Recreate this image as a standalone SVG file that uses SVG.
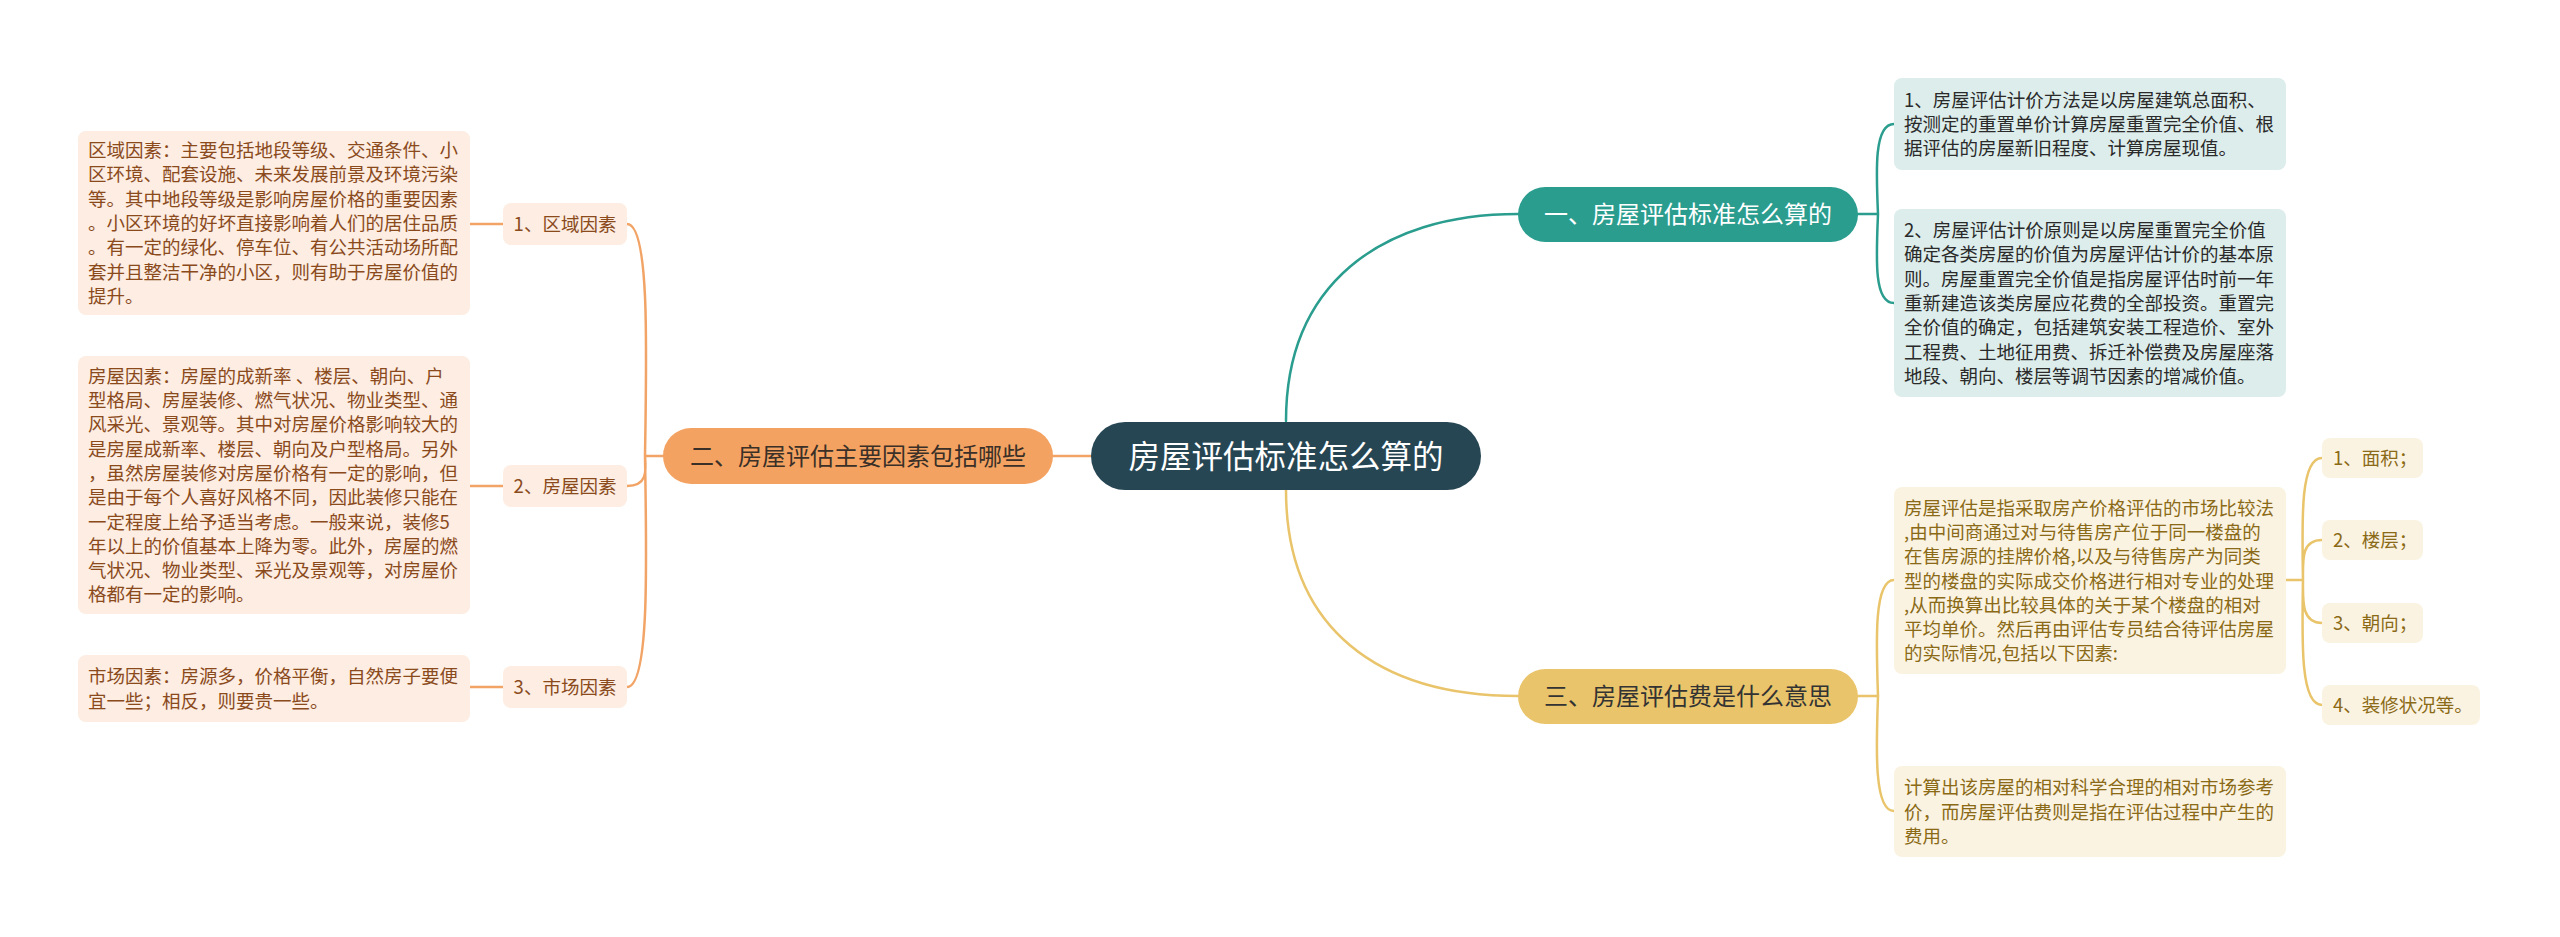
<svg xmlns="http://www.w3.org/2000/svg" width="2560" height="937" viewBox="0 0 2560 937">
<style>
text{font-family:"Noto Sans CJK SC","Noto Sans",sans-serif;}
.lf{font-size:18.5px;}
.tealLeaf{fill:#dcedeb;}
.tealTxt{fill:#2a2a2a;}
.yLeaf{fill:#fbf3e2;}
.yTxt{fill:#8a6a16;}
.oLeaf{fill:#fdede2;}
.oTxt{fill:#8a4a1c;}
.c{fill:none;stroke-width:2.5;stroke-linecap:round;}
.ct{stroke:#2a9d8f;}
.cy{stroke:#e9c46a;}
.co{stroke:#f2a466;}
</style>
<rect width="2560" height="937" fill="#ffffff"/>
<g id="connectors">
  <path class="c ct" d="M1286,421 C1286,285 1380,214 1518,214"/>
  <path class="c cy" d="M1286,490 C1286,630 1380,696 1518,696"/>
  <path class="c co" d="M1091,456 L1053,456"/>
  <path class="c ct" d="M1858,214 L1878,214 M1878,214 C1876,170 1874,124 1894,124 M1878,214 C1876,260 1874,303 1894,303"/>
  <path class="c cy" d="M1858,696 L1878,696 M1878,696 C1876,640 1874,580 1894,580 M1878,696 C1876,750 1874,811 1894,811"/>
  <path class="c cy" d="M2286,580 L2303,580 M2303,580 C2302,520 2300,458 2322,458 M2303,580 C2303,560 2301,540 2322,540 M2303,580 C2303,600 2301,623 2322,623 M2303,580 C2302,640 2300,705 2322,705"/>
  <path class="c co" d="M663,456 L645,456 M645,456 C647,340 649,224 627,224 M645,456 C646,470 648,486 627,486 M645,456 C647,570 649,687 627,687"/>
  <path class="c co" d="M503,224 L470,224 M503,486 L470,486 M503,687 L470,687"/>
</g>
<g id="root">
  <rect x="1091" y="422" width="390" height="68" rx="34" fill="#264653"/>
  <text x="1286" y="467.5" font-size="31.5" fill="#ffffff" text-anchor="middle">房屋评估标准怎么算的</text>
</g>
<g id="b1">
  <rect x="1518" y="187" width="340" height="55" rx="27.5" fill="#2a9d8f"/>
  <text x="1688" y="222.5" font-size="24" fill="#ffffff" text-anchor="middle">一、房屋评估标准怎么算的</text>
</g>
<g id="b3">
  <rect x="1518" y="669" width="340" height="55" rx="27.5" fill="#e9c46a"/>
  <text x="1688" y="704.5" font-size="24" fill="#333333" text-anchor="middle">三、房屋评估费是什么意思</text>
</g>
<g id="b2">
  <rect x="663" y="428" width="390" height="56" rx="28" fill="#f4a261"/>
  <text x="858" y="464.5" font-size="24" fill="#3a3028" text-anchor="middle">二、房屋评估主要因素包括哪些</text>
</g>
<g id="t1">
  <rect class="tealLeaf" x="1894" y="78" width="392" height="92" rx="8"/>
  <text class="lf tealTxt" x="1904"><tspan x="1904" y="106.7">1、房屋评估计价方法是以房屋建筑总面积、</tspan><tspan x="1904" y="131">按测定的重置单价计算房屋重置完全价值、根</tspan><tspan x="1904" y="155.3">据评估的房屋新旧程度、计算房屋现值。</tspan></text>
</g>
<g id="t2">
  <rect class="tealLeaf" x="1894" y="209" width="392" height="188" rx="8"/>
  <text class="lf tealTxt"><tspan x="1904" y="237.1">2、房屋评估计价原则是以房屋重置完全价值</tspan><tspan x="1904" y="261.4">确定各类房屋的价值为房屋评估计价的基本原</tspan><tspan x="1904" y="285.7">则。房屋重置完全价值是指房屋评估时前一年</tspan><tspan x="1904" y="310">重新建造该类房屋应花费的全部投资。重置完</tspan><tspan x="1904" y="334.3">全价值的确定，包括建筑安装工程造价、室外</tspan><tspan x="1904" y="358.6">工程费、土地征用费、拆迁补偿费及房屋座落</tspan><tspan x="1904" y="382.9">地段、朝向、楼层等调节因素的增减价值。</tspan></text>
</g>
<g id="y1">
  <rect class="yLeaf" x="1894" y="487" width="392" height="187" rx="8"/>
  <text class="lf yTxt"><tspan x="1904" y="514.6">房屋评估是指采取房产价格评估的市场比较法</tspan><tspan x="1904" y="538.9">,由中间商通过对与待售房产位于同一楼盘的</tspan><tspan x="1904" y="563.2">在售房源的挂牌价格,以及与待售房产为同类</tspan><tspan x="1904" y="587.5">型的楼盘的实际成交价格进行相对专业的处理</tspan><tspan x="1904" y="611.8">,从而换算出比较具体的关于某个楼盘的相对</tspan><tspan x="1904" y="636.1">平均单价。然后再由评估专员结合待评估房屋</tspan><tspan x="1904" y="660.4">的实际情况,包括以下因素:</tspan></text>
</g>
<g id="y2">
  <rect class="yLeaf" x="1894" y="766" width="392" height="91" rx="8"/>
  <text class="lf yTxt"><tspan x="1904" y="794.2">计算出该房屋的相对科学合理的相对市场参考</tspan><tspan x="1904" y="818.5">价，而房屋评估费则是指在评估过程中产生的</tspan><tspan x="1904" y="842.8">费用。</tspan></text>
</g>
<g id="s1">
  <rect class="yLeaf" x="2322" y="438" width="101" height="40" rx="8"/>
  <text class="lf yTxt" x="2333" y="465">1、面积；</text>
</g>
<g id="s2">
  <rect class="yLeaf" x="2322" y="520" width="101" height="40" rx="8"/>
  <text class="lf yTxt" x="2333" y="547">2、楼层；</text>
</g>
<g id="s3">
  <rect class="yLeaf" x="2322" y="603" width="101" height="40" rx="8"/>
  <text class="lf yTxt" x="2333" y="630">3、朝向；</text>
</g>
<g id="s4">
  <rect class="yLeaf" x="2322" y="685" width="158" height="40" rx="8"/>
  <text class="lf yTxt" x="2333" y="712">4、装修状况等。</text>
</g>
<g id="o1">
  <rect class="oLeaf" x="503" y="203" width="124" height="42" rx="8"/>
  <text class="lf oTxt" x="565" y="231" text-anchor="middle">1、区域因素</text>
</g>
<g id="o2">
  <rect class="oLeaf" x="503" y="465" width="124" height="42" rx="8"/>
  <text class="lf oTxt" x="565" y="493" text-anchor="middle">2、房屋因素</text>
</g>
<g id="o3">
  <rect class="oLeaf" x="503" y="666" width="124" height="42" rx="8"/>
  <text class="lf oTxt" x="565" y="694" text-anchor="middle">3、市场因素</text>
</g>
<g id="o1d">
  <rect class="oLeaf" x="78" y="131" width="392" height="184" rx="8"/>
  <text class="lf oTxt"><tspan x="88" y="157.1">区域因素：主要包括地段等级、交通条件、小</tspan><tspan x="88" y="181.4">区环境、配套设施、未来发展前景及环境污染</tspan><tspan x="88" y="205.7">等。其中地段等级是影响房屋价格的重要因素</tspan><tspan x="88" y="230">。小区环境的好坏直接影响着人们的居住品质</tspan><tspan x="88" y="254.3">。有一定的绿化、停车位、有公共活动场所配</tspan><tspan x="88" y="278.6">套并且整洁干净的小区，则有助于房屋价值的</tspan><tspan x="88" y="302.9">提升。</tspan></text>
</g>
<g id="o2d">
  <rect class="oLeaf" x="78" y="356" width="392" height="258" rx="8"/>
  <text class="lf oTxt"><tspan x="88" y="382.7">房屋因素：房屋的成新率 、楼层、朝向、户</tspan><tspan x="88" y="407">型格局、房屋装修、燃气状况、物业类型、通</tspan><tspan x="88" y="431.3">风采光、景观等。其中对房屋价格影响较大的</tspan><tspan x="88" y="455.6">是房屋成新率、楼层、朝向及户型格局。另外</tspan><tspan x="88" y="479.9">，虽然房屋装修对房屋价格有一定的影响，但</tspan><tspan x="88" y="504.2">是由于每个人喜好风格不同，因此装修只能在</tspan><tspan x="88" y="528.5">一定程度上给予适当考虑。一般来说，装修5</tspan><tspan x="88" y="552.8">年以上的价值基本上降为零。此外，房屋的燃</tspan><tspan x="88" y="577.1">气状况、物业类型、采光及景观等，对房屋价</tspan><tspan x="88" y="601.4">格都有一定的影响。</tspan></text>
</g>
<g id="o3d">
  <rect class="oLeaf" x="78" y="655" width="392" height="67" rx="8"/>
  <text class="lf oTxt"><tspan x="88" y="683.3">市场因素：房源多，价格平衡，自然房子要便</tspan><tspan x="88" y="707.6">宜一些；相反，则要贵一些。</tspan></text>
</g>
</svg>
